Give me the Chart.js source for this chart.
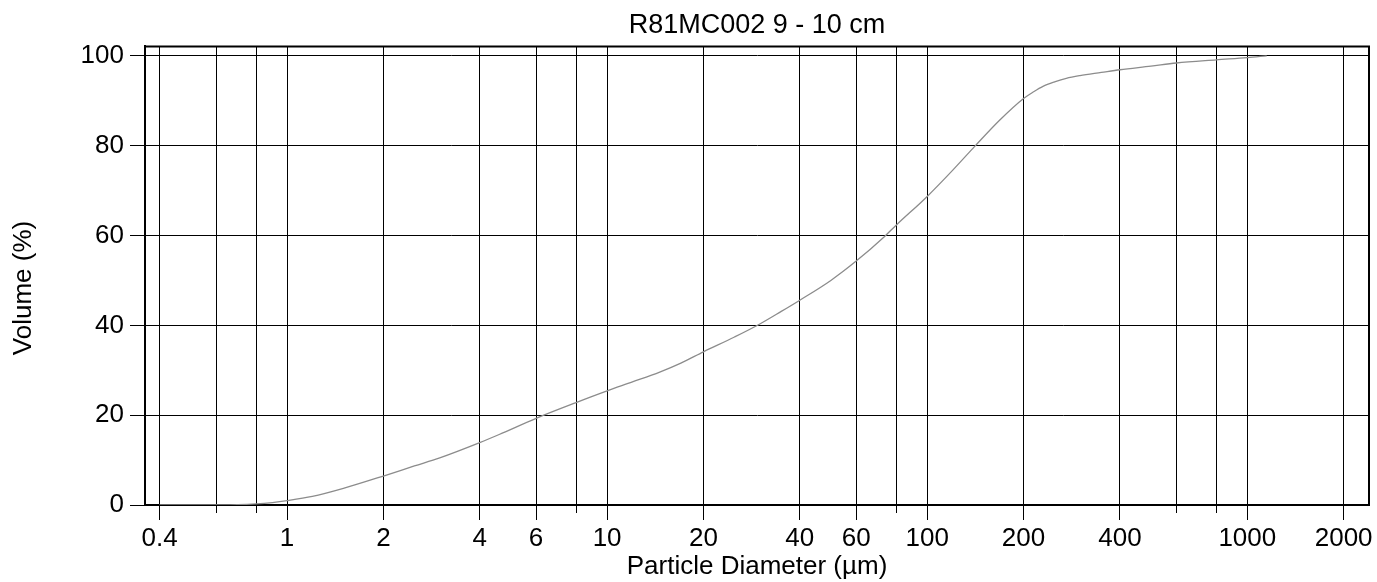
<!DOCTYPE html>
<html>
<head>
<meta charset="utf-8">
<script src="https://cdn.jsdelivr.net/npm/chart.js@4.4.1/dist/chart.umd.min.js"></script>
<style>
  body { margin: 0; background: #fff; }
</style>
</head>
<body>
<canvas id="chart" width="1377" height="582"></canvas>
<script>
// particle diameter (um) and cumulative volume (%)
const diameters = [0.4, 0.5, 0.6, 0.7, 0.8, 0.9, 1.0, 1.2, 1.5, 2.0, 2.5, 3.0, 4.0, 4.6, 6, 8, 10, 12, 14.6, 17, 20, 25, 30, 35, 40, 50, 60, 73.6, 80, 100, 120, 141, 168, 200, 215, 230, 250, 272, 300, 350, 400, 500, 600, 800, 1000, 1150];
const volume = [0, 0, 0.02, 0.08, 0.25, 0.55, 0.96, 1.9, 3.7, 6.45, 8.7, 10.5, 13.9, 15.7, 19.3, 22.8, 25.4, 27.4, 29.6, 31.6, 34.1, 37.4, 40.3, 43.1, 45.6, 50.0, 54.3, 59.8, 62.3, 68.7, 74.5, 79.9, 85.6, 90.5, 92.0, 93.2, 94.2, 95.0, 95.6, 96.3, 96.9, 97.7, 98.4, 99.1, 99.6, 100];

// x grid lines, and which of them carry a label
const xGrid = [0.4, 0.6, 0.8, 1, 2, 4, 6, 8, 10, 20, 40, 60, 80, 100, 200, 400, 600, 800, 1000, 2000];
const xLabels = [0.4, 1, 2, 4, 6, 10, 20, 40, 60, 100, 200, 400, 1000, 2000];
const yTicks = [0, 20, 40, 60, 80, 100];

const FONT = "'Liberation Sans', Arial, sans-serif";
Chart.defaults.color = '#000';
Chart.defaults.font.family = FONT;

// top/right frame, short ticks of the unlabelled grid lines, y axis title
const framePlugin = {
  id: 'frame',
  afterDraw(chart) {
    const ctx = chart.ctx;
    const a = chart.chartArea;
    const x = chart.scales.x;
    ctx.save();
    ctx.strokeStyle = '#000';
    ctx.lineWidth = 2;
    ctx.beginPath();
    ctx.moveTo(a.left, a.top);
    ctx.lineTo(a.right, a.top);
    ctx.lineTo(a.right, a.bottom);
    ctx.stroke();
    ctx.lineWidth = 1;
    xGrid.filter(v => !xLabels.includes(v)).forEach(v => {
      const px = Math.round(x.getPixelForValue(v)) + 0.5;
      ctx.beginPath();
      ctx.moveTo(px, a.bottom);
      ctx.lineTo(px, a.bottom + 8);
      ctx.stroke();
    });

    // the y title sits on the middle of the whole canvas, not the plot
    ctx.translate(24, chart.height / 2 - 3);
    ctx.rotate(-Math.PI / 2);
    ctx.fillStyle = '#000';
    ctx.font = '26px ' + FONT;
    ctx.textAlign = 'center';
    ctx.textBaseline = 'middle';
    ctx.fillText('Volume (%)', 0, 0);
    ctx.restore();
  }
};

new Chart(document.getElementById('chart'), {
  type: 'line',
  data: {
    datasets: [{
      data: diameters.map((d, i) => ({ x: d, y: volume[i] })),
      borderColor: '#8c8c8c',
      borderWidth: 1.3,
      pointRadius: 0,
      fill: false,
      cubicInterpolationMode: 'monotone'
    }]
  },
  options: {
    responsive: false,
    animation: false,
    layout: { padding: { right: 8 } },
    plugins: {
      legend: { display: false },
      tooltip: { enabled: false },
      title: {
        display: true,
        text: 'R81MC002 9 - 10 cm',
        fullSize: false,
        color: '#000',
        font: { size: 27, weight: 'normal', family: FONT },
        padding: { top: 9, bottom: 5 }
      }
    },
    scales: {
      x: {
        type: 'logarithmic',
        min: 0.36,
        max: 2400,
        afterBuildTicks: s => { s.ticks = xGrid.map(v => ({ value: v })); },
        afterFit: s => { s.height = 77; },
        ticks: {
          autoSkip: false,
          maxRotation: 0,
          padding: 3,
          color: '#000',
          font: { size: 26 },
          callback: v => xLabels.includes(v) ? String(v) : ''
        },
        grid: {
          color: '#000',
          lineWidth: 1,
          tickLength: 15,
          tickColor: c => xLabels.includes(c.tick.value) ? '#000' : 'rgba(0,0,0,0)'
        },
        border: { color: '#000', width: 2 },
        title: {
          display: true,
          text: 'Particle Diameter (µm)',
          color: '#000',
          font: { size: 26 },
          padding: { top: 0, bottom: 0 }
        }
      },
      y: {
        min: 0,
        max: 102.1,
        afterBuildTicks: s => { s.ticks = yTicks.map(v => ({ value: v })); },
        afterFit: s => { s.width = 145; },
        ticks: {
          padding: 6,
          color: '#000',
          font: { size: 26 }
        },
        grid: { color: '#000', lineWidth: 1, tickLength: 15, tickColor: '#000' },
        border: { color: '#000', width: 2 },
        title: { display: false }
      }
    }
  },
  plugins: [framePlugin]
});
</script>
</body>
</html>
